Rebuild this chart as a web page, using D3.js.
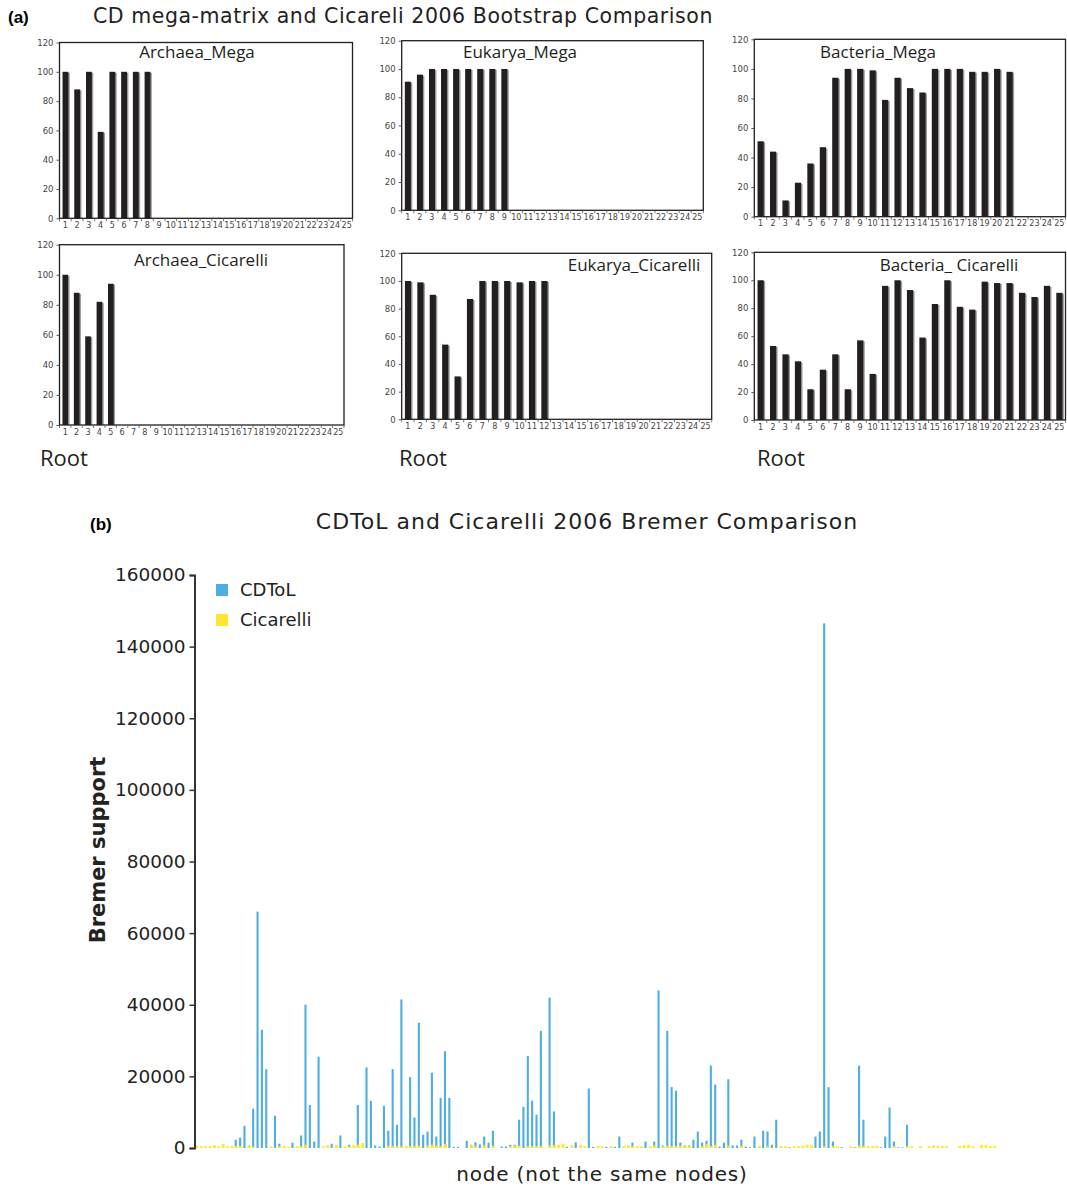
<!DOCTYPE html>
<html>
<head>
<meta charset="utf-8">
<script src="https://cdn.jsdelivr.net/npm/d3@7"></script>
<style>
  body { margin: 0; background: #fff; }
  svg { display: block; }
</style>
</head>
<body>
<div class="chart"></div>
<script>

/*
    Data
*/

// node labels for the six bootstrap panels
var nodeLabels = d3.range(1, 26).map(String);
var bootTicks = [0, 20, 40, 60, 80, 100, 120];

// bootstrap support per node (only the filled nodes)
var archaeaMega = [100, 88, 100, 59, 100, 100, 100, 100];
var eukaryaMega = [91, 96, 100, 100, 100, 100, 100, 100, 100];
var bacteriaMega = [51, 44, 11, 23, 36, 47, 94, 100, 100, 99, 79, 94, 87, 84, 100, 100, 100, 98, 98, 100, 98];
var archaeaCicarelli = [100, 88, 59, 82, 94];
var eukaryaCicarelli = [100, 99, 90, 54, 31, 87, 100, 100, 100, 99, 100, 100];
var bacteriaCicarelli = [100, 53, 47, 42, 22, 36, 47, 22, 57, 33, 96, 100, 93, 59, 83, 100, 81, 79, 99, 98, 98, 91, 88, 96, 91];

// Bremer support per node (part b)
var bremerTicks = [0, 20000, 40000, 60000, 80000, 100000, 120000, 140000, 160000];
var seriesNames = ["CDToL", "Cicarelli"];
var cdtol = [
  0, 0, 0, 0, 0, 0, 0, 0, 0, 2300,
  2900, 6200, 700, 11000, 66000, 33000, 22000, 0, 9000, 1200,
  0, 0, 1500, 0, 3500, 40000, 12000, 1800, 25500, 0,
  0, 1200, 0, 3500, 0, 900, 0, 12000, 0, 22500,
  13200, 700, 400, 11800, 4800, 22000, 6500, 41500, 0, 19800,
  8500, 35000, 3700, 4600, 21000, 3200, 14000, 27000, 14000, 300,
  300, 0, 2000, 900, 1600, 1000, 3200, 1500, 4800, 0,
  400, 400, 900, 900, 7900, 11500, 25700, 13200, 9300, 32700,
  0, 42000, 10200, 0, 0, 300, 0, 1600, 0, 0,
  16600, 300, 0, 0, 300, 0, 300, 3200, 0, 0,
  1500, 0, 0, 1800, 0, 1800, 44000, 700, 32700, 17000,
  16000, 1500, 700, 700, 2300, 4600, 1500, 2000, 23000, 17700,
  400, 1500, 19200, 700, 700, 2300, 400, 200, 3200, 0,
  4800, 4600, 900, 7900, 0, 0, 200, 0, 0, 0,
  0, 0, 3200, 4600, 146500, 17000, 1800, 0, 200, 0,
  0, 200, 23000, 7900, 0, 0, 0, 200, 3200, 11300,
  1800, 200, 200, 6500, 0, 0, 0, 0, 0, 0,
  0, 0, 0, 0, 0, 0, 0, 0, 0, 0,
  0, 0, 0, 0
];
var cicarelli = [
  650, 500, 500, 550, 800, 500, 1100, 500, 550, 550,
  500, 0, 650, 400, 0, 0, 0, 500, 0, 500,
  650, 400, 0, 500, 500, 900, 0, 0, 0, 500,
  800, 0, 900, 0, 500, 500, 900, 900, 1400, 0,
  0, 0, 0, 0, 650, 500, 500, 500, 650, 500,
  500, 650, 0, 650, 900, 650, 500, 1100, 0, 0,
  0, 0, 0, 800, 500, 0, 800, 0, 650, 0,
  0, 0, 550, 650, 650, 0, 500, 500, 500, 500,
  0, 750, 750, 900, 1200, 0, 750, 0, 900, 550,
  0, 0, 500, 500, 0, 500, 0, 0, 650, 800,
  500, 550, 500, 0, 500, 750, 0, 500, 650, 500,
  500, 650, 650, 550, 0, 0, 500, 1100, 500, 900,
  0, 0, 650, 0, 0, 650, 0, 0, 0, 650,
  0, 500, 0, 0, 500, 550, 0, 500, 500, 650,
  900, 800, 0, 0, 500, 0, 500, 500, 0, 0,
  500, 0, 750, 500, 500, 500, 650, 0, 0, 0,
  500, 0, 0, 500, 500, 0, 550, 0, 500, 750,
  650, 550, 550, 0, 0, 550, 800, 900, 500, 0,
  900, 750, 500, 500
];

window.onload = function() {

  var width = 1067,
      height = 1187,
      ink = "#231f20",
      blue = "#4fade1",
      yellow = "#ffe633";

  var svg = d3.select("div.chart")
    .append("svg")
      .attr("width", width)
      .attr("height", height);

/*
    Part (a): six small bootstrap panels
*/

  svg.append("text")
      .attr("x", 8).attr("y", 23)
      .style("font", "bold 17px 'Liberation Sans', Arial, sans-serif")
      .text("(a)");

  svg.append("text")
      .attr("x", 93).attr("y", 23)
      .style("font", "20.5px 'DejaVu Sans', sans-serif")
      .style("letter-spacing", "0.55px")
      .style("fill", "#222")
      .text("CD mega-matrix and Cicareli 2006 Bootstrap Comparison");

  // box = [left, right, top, bottom]
  var panels = [
    {title: "Archaea_Mega",        values: archaeaMega,       box: [59.5, 352.5, 42.5, 218.3], tx: 197, ty: 58,  rootX: null},
    {title: "Eukarya_Mega",        values: eukaryaMega,       box: [401.7, 703.3, 40.7, 210.3], tx: 520, ty: 58,  rootX: null},
    {title: "Bacteria_Mega",       values: bacteriaMega,      box: [754.3, 1065.5, 39.3, 216.7], tx: 878, ty: 58,  rootX: null},
    {title: "Archaea_Cicarelli",   values: archaeaCicarelli,  box: [59.5, 344, 244.7, 425], tx: 201, ty: 266, rootX: 40},
    {title: "Eukarya_Cicarelli",   values: eukaryaCicarelli,  box: [401.7, 711.7, 253.3, 419.3], tx: 634, ty: 271, rootX: 399},
    {title: "Bacteria_ Cicarelli", values: bacteriaCicarelli, box: [754.3, 1065.5, 252.3, 420], tx: 949, ty: 271, rootX: 757}
  ];

  panels.forEach(function(p) {
    var L = p.box[0], R = p.box[1], T = p.box[2], B = p.box[3];

    var x = d3.scaleBand().domain(nodeLabels).range([L, R]);
    var y = d3.scaleLinear().domain([0, 120]).range([B, T]);
    var bw = x.bandwidth();

    var g = svg.append("g").attr("class", "panel");

    // bars: gray shadow then black bar
    var bars = g.selectAll("g.bar")
        .data(p.values)
      .enter().append("g")
        .attr("class", "bar");

    bars.append("rect")
        .attr("x", function(d, i) { return x(nodeLabels[i]) + bw * 0.26 + 1.4; })
        .attr("y", function(d) { return y(d) + 1; })
        .attr("width", bw * 0.5)
        .attr("height", function(d) { return B - y(d) - 1; })
        .style("fill", "#9a9a9a");

    bars.append("rect")
        .attr("x", function(d, i) { return x(nodeLabels[i]) + bw * 0.26; })
        .attr("y", function(d) { return y(d); })
        .attr("width", bw * 0.5)
        .attr("height", function(d) { return B - y(d); })
        .style("fill", ink);

    // frame
    g.append("rect")
        .attr("x", L).attr("y", T)
        .attr("width", R - L).attr("height", B - T)
        .style("fill", "none")
        .style("stroke", ink)
        .style("stroke-width", 1.3);

    // y axis
    var ya = g.append("g")
        .attr("transform", "translate(" + L + ",0)")
        .call(d3.axisLeft(y).tickValues(bootTicks).tickSize(3).tickPadding(3));
    ya.select(".domain").remove();
    ya.selectAll("line").style("stroke", "#555");
    ya.selectAll("text")
        .style("font", "8.5px 'DejaVu Sans', sans-serif")
        .style("fill", "#444");

    // x axis: ticks at band edges, labels under bands
    var xa = g.append("g")
        .attr("transform", "translate(0," + B + ")")
        .call(d3.axisBottom(x).tickSize(0).tickPadding(4));
    xa.select(".domain").remove();
    xa.selectAll("text")
        .style("font", "8px 'DejaVu Sans', sans-serif")
        .style("fill", "#444");

    g.selectAll("line.edge")
        .data(nodeLabels.concat(["end"]))
      .enter().append("line")
        .attr("class", "edge")
        .attr("x1", function(d) { return d === "end" ? R : x(d); })
        .attr("x2", function(d) { return d === "end" ? R : x(d); })
        .attr("y1", B)
        .attr("y2", B + 3)
        .style("stroke", "#555")
        .style("stroke-width", 0.8);

    g.append("text")
        .attr("x", p.tx).attr("y", p.ty)
        .attr("text-anchor", "middle")
        .style("font", "17px 'Open Sans', sans-serif")
        .style("fill", ink)
        .text(p.title);

    if (p.rootX !== null) {
      g.append("text")
          .attr("x", p.rootX).attr("y", 466)
          .style("font", "22px 'Open Sans', sans-serif")
          .style("fill", ink)
          .text("Root");
    }
  });

/*
    Part (b): Bremer support bar chart
*/

  var bL = 194.5, bR = 996.5, bT = 575, bB = 1148;

  svg.append("text")
      .attr("x", 90).attr("y", 530)
      .style("font", "bold 17px 'Liberation Sans', Arial, sans-serif")
      .text("(b)");

  svg.append("text")
      .attr("x", 587).attr("y", 529)
      .attr("text-anchor", "middle")
      .style("font", "22px 'DejaVu Sans', sans-serif")
      .style("letter-spacing", "1px")
      .style("fill", "#222")
      .text("CDToL and Cicarelli 2006 Bremer Comparison");

  var xb = d3.scaleBand().domain(d3.range(cdtol.length)).range([bL, bR]);
  var yb = d3.scaleLinear().domain([0, 160000]).range([bB, bT]);
  var step = xb.bandwidth();

  var chart = svg.append("g").attr("class", "bremer");

  chart.selectAll("rect.cdtol")
      .data(cdtol)
    .enter().append("rect")
      .attr("class", "cdtol")
      .attr("x", function(d, i) { return xb(i) + step * 0.5 - 1.2; })
      .attr("y", function(d) { return yb(d); })
      .attr("width", 2.1)
      .attr("height", function(d) { return bB - yb(d); })
      .style("fill", blue);

  chart.selectAll("rect.cic")
      .data(cicarelli)
    .enter().append("rect")
      .attr("class", "cic")
      .attr("x", function(d, i) { return xb(i) + step * 0.5 - 1.2; })
      .attr("y", function(d) { return yb(d); })
      .attr("width", 3)
      .attr("height", function(d) { return bB - yb(d); })
      .style("fill", yellow)
      .style("opacity", 0.95);

  var yAxis = chart.append("g")
      .attr("transform", "translate(" + bL + ",0)")
      .call(d3.axisLeft(yb).tickValues(bremerTicks).tickSize(5).tickPadding(4).tickFormat(d3.format("d")));
  yAxis.select(".domain").style("stroke", "#333").style("stroke-width", 2);
  yAxis.selectAll("line").style("stroke", "#333").style("stroke-width", 1.5);
  yAxis.selectAll("text")
      .style("font", "18.5px 'DejaVu Sans', sans-serif")
      .style("fill", "#222");

  svg.append("text")
      .attr("transform", "translate(105,850) rotate(-90)")
      .attr("text-anchor", "middle")
      .style("font", "bold 21px 'DejaVu Sans', sans-serif")
      .style("fill", "#222")
      .text("Bremer support");

  svg.append("text")
      .attr("x", 602).attr("y", 1181)
      .attr("text-anchor", "middle")
      .style("font", "20px 'DejaVu Sans', sans-serif")
      .style("letter-spacing", "0.8px")
      .style("fill", "#222")
      .text("node (not the same nodes)");

  // legend
  var legend = svg.append("g").selectAll("g")
      .data(seriesNames)
    .enter().append("g")
      .attr("transform", function(d, i) { return "translate(216," + (584 + i * 30) + ")"; });

  legend.append("rect")
      .attr("width", 12).attr("height", 12)
      .style("fill", function(d, i) { return i === 0 ? blue : yellow; });

  legend.append("text")
      .attr("x", 24).attr("y", 12)
      .style("font", "18px 'DejaVu Sans', sans-serif")
      .style("fill", "#222")
      .text(function(d) { return d; });
};
</script>
</body>
</html>
